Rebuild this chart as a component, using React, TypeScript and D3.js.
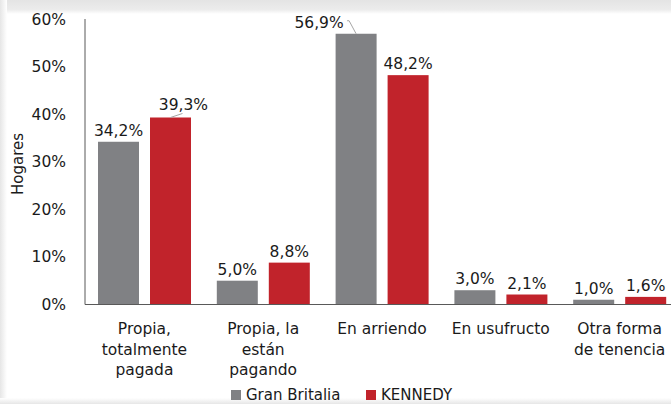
import React from "react";
import * as d3 from "d3";

const categories: string[][] = [
  ["Propia,", "totalmente", "pagada"],
  ["Propia, la", "están", "pagando"],
  ["En arriendo"],
  ["En usufructo"],
  ["Otra forma", "de tenencia"],
];
const seriesNames = ["Gran Britalia", "KENNEDY"];
const granBritalia = [34.2, 5.0, 56.9, 3.0, 1.0];
const kennedy = [39.3, 8.8, 48.2, 2.1, 1.6];
const yTicks = [0, 10, 20, 30, 40, 50, 60];

const W = 671;
const H = 404;
const FONT = "'DejaVu Sans', Verdana, sans-serif";
const GRAY = "#808184";
const RED = "#c1232b";

const fmt = (v: number) => v.toFixed(1).replace(".", ",") + "%";

export default function App() {
  const x0 = d3.scaleBand<number>().domain(d3.range(categories.length)).range([85, 679]).paddingInner(0).paddingOuter(0);
  const x1 = d3.scaleBand<number>().domain([0, 1]).range([13, 106]).paddingInner(0.2115).paddingOuter(0);
  const y = d3.scaleLinear().domain([0, 60]).range([304.5, 19]);
  const series = [granBritalia, kennedy];
  const colors = [GRAY, RED];

  const labelShift: Record<string, [number, number]> = {
    "1-0": [13, -1],
    "0-2": [-37, 0],
  };

  return (
    <div style={{ position: "fixed", left: 0, top: 0 }}>
      <svg width={W} height={H} style={{ display: "block" }}>
        <defs>
          <linearGradient id="topShade" x1="0" y1="0" x2="0" y2="1">
            <stop offset="0" stopColor="#e4e4e4" />
            <stop offset="0.7" stopColor="#ececec" />
            <stop offset="1" stopColor="#ffffff" />
          </linearGradient>
          <linearGradient id="leftShade" x1="0" y1="0" x2="1" y2="0">
            <stop offset="0" stopColor="#e6e6e6" />
            <stop offset="1" stopColor="#ffffff" />
          </linearGradient>
          <linearGradient id="botShade" x1="0" y1="0" x2="0" y2="1">
            <stop offset="0" stopColor="#ffffff" />
            <stop offset="1" stopColor="#e6e6e6" />
          </linearGradient>
        </defs>
        <rect x={0} y={0} width={W} height={H} fill="#ffffff" />
        <rect x={0} y={0} width={W} height={14} fill="url(#topShade)" />
        <rect x={0} y={0} width={7} height={H} fill="url(#leftShade)" />
        <rect x={0} y={398} width={W} height={6} fill="url(#botShade)" />

        {yTicks.map((t) => (
          <text key={t} x={66} y={y(t)} dy="0.36em" textAnchor="end" fontFamily={FONT} fontSize={15.5} fill="#1a1a1a">
            {t}%
          </text>
        ))}
        <text
          transform={`translate(18,${164}) rotate(-90)`}
          textAnchor="middle"
          dy="0.36em"
          fontFamily={FONT}
          fontSize={15}
          fill="#1a1a1a"
        >
          Hogares
        </text>

        {series.map((s, si) =>
          s.map((v, ci) => {
            const bx = (x0(ci) as number) + (x1(si) as number);
            return (
              <rect key={`${si}-${ci}`} x={bx} y={y(v)} width={x1.bandwidth()} height={y(0) - y(v)} fill={colors[si]} />
            );
          })
        )}

        <line x1={85} x2={85} y1={19} y2={304.5} stroke="#595959" strokeWidth={1} />
        <line x1={85} x2={W} y1={304.5} y2={304.5} stroke="#595959" strokeWidth={1} />

        {series.map((s, si) =>
          s.map((v, ci) => {
            const cx = (x0(ci) as number) + (x1(si) as number) + x1.bandwidth() / 2;
            const key = `${si}-${ci}`;
            const sh = labelShift[key] || [0, 0];
            const lx = cx + sh[0];
            const ly = y(v) - 6 + sh[1];
            let leader: React.ReactNode = null;
            if (key === "1-0") {
              leader = <line x1={cx} y1={y(v)} x2={cx + 12} y2={y(v) - 4} stroke="#a6a6a6" strokeWidth={1} />;
            }
            if (key === "0-2") {
              leader = (
                <polyline
                  points={`${cx - 9},${y(v) - 13} ${cx - 7},${y(v) - 13} ${cx},${y(v)}`}
                  fill="none"
                  stroke="#a6a6a6"
                  strokeWidth={1}
                />
              );
            }
            return (
              <g key={key}>
                {leader}
                <text x={lx} y={ly} textAnchor="middle" fontFamily={FONT} fontSize={15.5} fill="#1a1a1a">
                  {fmt(v)}
                </text>
              </g>
            );
          })
        )}

        {categories.map((lines, ci) => {
          const cx = (x0(ci) as number) + x0.bandwidth() / 2;
          return (
            <text key={ci} textAnchor="middle" fontFamily={FONT} fontSize={15.5} fill="#1a1a1a">
              {lines.map((ln, li) => (
                <tspan key={li} x={cx} y={334 + li * 20.5}>
                  {ln}
                </tspan>
              ))}
            </text>
          );
        })}

        {seriesNames.map((n, i) => {
          const lx = i === 0 ? 231 : 366;
          return (
            <g key={n}>
              <rect x={lx} y={390} width={10} height={10} fill={colors[i]} />
              <text x={lx + 15} y={394.5} dy="0.36em" fontFamily={FONT} fontSize={15} fill="#1a1a1a">
                {n}
              </text>
            </g>
          );
        })}
      </svg>
    </div>
  );
}
